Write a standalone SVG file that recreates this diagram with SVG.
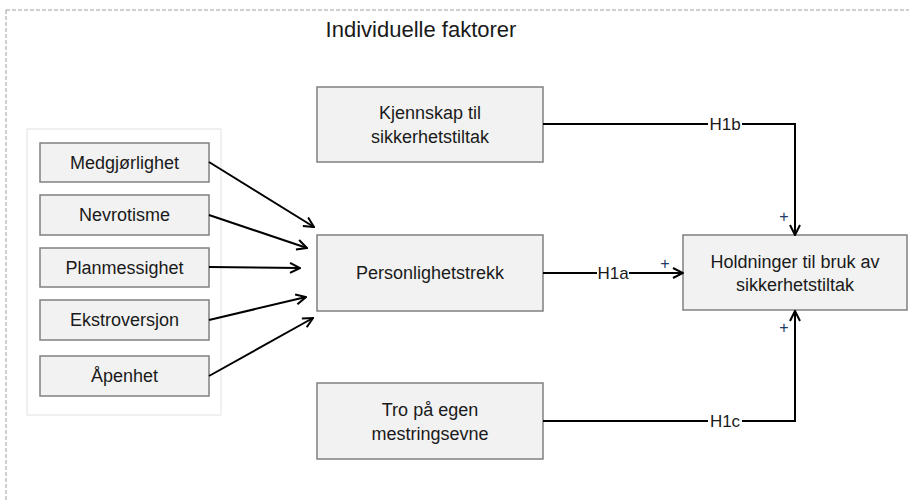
<svg xmlns="http://www.w3.org/2000/svg" width="909" height="500" viewBox="0 0 909 500">
  <defs>
    <marker id="arrow" viewBox="0 0 12 12" refX="11" refY="6" markerWidth="12" markerHeight="12" markerUnits="userSpaceOnUse" orient="auto">
      <path d="M1,1 L11,6 L1,11" fill="none" stroke="#000" stroke-width="2"/>
    </marker>
  </defs>
  <style>
    text { font-family: "Liberation Sans", Arial, sans-serif; fill: #1a1a1a; }
    .box { fill: #f2f2f2; stroke: #808080; stroke-width: 1.5; }
    .lbl { font-size: 18px; text-anchor: middle; }
    .edge { fill: none; stroke: #000; stroke-width: 2; }
    .arr { marker-end: url(#arrow); }
    .hyp { font-size: 17px; text-anchor: middle; }
    .plus { font-size: 16px; text-anchor: middle; fill: #203864; }
  </style>
  <rect width="909" height="500" fill="#fff"/>

  <!-- outer frame -->
  <rect x="6" y="10" width="920" height="510" fill="none" stroke="#a0a0a0" stroke-width="1" stroke-dasharray="4,2"/>
  <text x="421" y="37" font-size="22" text-anchor="middle">Individuelle faktorer</text>

  <!-- personality trait panel -->
  <rect x="27" y="129" width="194" height="286" fill="#fff" stroke="#e2e2e2" stroke-width="1"/>

  <g id="medgjorlighet">
    <rect class="box" x="40" y="143" width="169" height="39"/>
    <text class="lbl" x="124.5" y="169">Medgjørlighet</text>
  </g>
  <g id="nevrotisme">
    <rect class="box" x="40" y="195" width="169" height="40"/>
    <text class="lbl" x="124.5" y="221">Nevrotisme</text>
  </g>
  <g id="planmessighet">
    <rect class="box" x="40" y="248" width="169" height="39"/>
    <text class="lbl" x="124.5" y="274">Planmessighet</text>
  </g>
  <g id="ekstroversjon">
    <rect class="box" x="40" y="300" width="169" height="40"/>
    <text class="lbl" x="124.5" y="326">Ekstroversjon</text>
  </g>
  <g id="apenhet">
    <rect class="box" x="40" y="356" width="169" height="40"/>
    <text class="lbl" x="124.5" y="382">Åpenhet</text>
  </g>

  <g id="kjennskap">
    <rect class="box" x="317" y="87" width="226" height="75"/>
    <text class="lbl" x="430" y="119">Kjennskap til</text>
    <text class="lbl" x="430" y="143">sikkerhetstiltak</text>
  </g>
  <g id="personlighetstrekk">
    <rect class="box" x="317" y="235" width="226" height="76"/>
    <text class="lbl" x="430" y="279">Personlighetstrekk</text>
  </g>
  <g id="mestring">
    <rect class="box" x="317" y="383" width="226" height="76"/>
    <text class="lbl" x="430" y="416">Tro på egen</text>
    <text class="lbl" x="430" y="440">mestringsevne</text>
  </g>
  <g id="holdninger">
    <rect class="box" x="683" y="235" width="224" height="75"/>
    <text class="lbl" x="795" y="268">Holdninger til bruk av</text>
    <text class="lbl" x="795" y="291">sikkerhetstiltak</text>
  </g>

  <g id="connectors">
    <line class="edge arr" x1="209" y1="162" x2="314" y2="227"/>
    <line class="edge arr" x1="209" y1="215" x2="307" y2="248"/>
    <line class="edge arr" x1="209" y1="267" x2="300" y2="268"/>
    <line class="edge arr" x1="209" y1="320" x2="306" y2="297"/>
    <line class="edge arr" x1="209" y1="376" x2="313" y2="318"/>

    <polyline class="edge arr" points="543,124 795,124 795,235"/>
    <line class="edge arr" x1="543" y1="273" x2="683" y2="273"/>
    <polyline class="edge arr" points="543,421 795,421 795,311"/>

    <rect x="708" y="115" width="34" height="18" fill="#fff"/>
    <text class="hyp" x="725" y="130">H1b</text>
    <rect x="597" y="264" width="32" height="18" fill="#fff"/>
    <text class="hyp" x="613" y="279">H1a</text>
    <rect x="708" y="412" width="34" height="18" fill="#fff"/>
    <text class="hyp" x="725" y="427">H1c</text>

    <text class="plus" x="784" y="222">+</text>
    <text class="plus" x="665" y="269">+</text>
    <text class="plus" x="784" y="333">+</text>
  </g>
</svg>
